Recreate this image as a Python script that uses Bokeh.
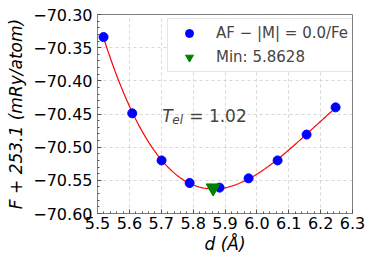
import numpy as np
from bokeh.plotting import figure
from bokeh.models import Label, Legend, LegendItem, Range1d, FixedTicker
from bokeh.embed import file_html
from bokeh.resources import INLINE

# ---- data ----
d_vals = [5.519, 5.609, 5.701, 5.789, 5.883, 5.974, 6.065, 6.156, 6.247]
F_vals = [-70.334, -70.449, -70.520, -70.554, -70.561, -70.547, -70.520, -70.481, -70.440]
d_min = [5.8628]
F_min = [-70.5615]
x_ticks = [5.5, 5.6, 5.7, 5.8, 5.9, 6.0, 6.1, 6.2, 6.3]
y_ticks = [-70.60, -70.55, -70.50, -70.45, -70.40, -70.35, -70.30]
legend_labels = ["AF − |M| = 0.0/Fe", "Min: 5.8628"]
tel_value = "= 1.02"
x_label = "d (Å)"
y_label = "F + 253.1 (mRy/atom)"

# fitted curve (cubic fit of the points, as in the original)
coef = np.polyfit(d_vals, F_vals, 3)
xs = np.linspace(min(d_vals), max(d_vals), 200)
ys = np.polyval(coef, xs)

p = figure(width=374, height=267, x_range=Range1d(5.5, 6.3), y_range=Range1d(-70.60, -70.30),
           output_backend="svg", toolbar_location=None,
           min_border_left=97, min_border_right=22, min_border_top=14, min_border_bottom=54)
p.background_fill_color = "white"
p.border_fill_color = "white"
p.outline_line_color = "#808080"
p.outline_line_width = 1

xminor = [round(5.5 + 0.02 * i, 3) for i in range(41)]
yminor = [round(-70.60 + 0.01 * i, 3) for i in range(31)]
p.xaxis.ticker = FixedTicker(ticks=x_ticks, minor_ticks=xminor)
p.yaxis.ticker = FixedTicker(ticks=y_ticks, minor_ticks=yminor)
p.xaxis.major_label_overrides = {t: f"{t:.1f}" for t in x_ticks}
p.yaxis.major_label_overrides = {t: f"{t:.2f}".replace("-", "−") for t in y_ticks}

for ax in (p.xaxis, p.yaxis):
    ax.major_label_text_font = "DejaVu Sans"
    ax.major_label_text_font_size = "16px"
    ax.major_label_text_color = "black"
    ax.axis_line_color = "#808080"
    ax.major_tick_in = 4
    ax.major_tick_out = 0
    ax.minor_tick_in = 2
    ax.minor_tick_out = 0
    ax.major_tick_line_color = "#555555"
    ax.minor_tick_line_color = "#555555"
    ax.axis_label_text_font = "DejaVu Sans"
    ax.axis_label_text_font_size = "17px"
    ax.axis_label_text_font_style = "italic"
    ax.axis_label_text_color = "black"
p.xaxis.major_label_standoff = 3
p.yaxis.major_label_standoff = 5
p.xaxis.axis_label = x_label
p.yaxis.axis_label = y_label
p.xaxis.axis_label_standoff = 2
p.yaxis.axis_label_standoff = 4

for g in (p.xgrid, p.ygrid):
    g.grid_line_color = "#cccccc"
    g.grid_line_dash = "3 3"
    g.grid_line_alpha = 0.8

p.line(xs, ys, line_color="red", line_width=1.2)
r_pts = p.scatter(d_vals, F_vals, size=9, color="blue")
r_min = p.scatter(d_min, F_min, marker="inverted_triangle", size=14, color="green")

legend = Legend(items=[LegendItem(label=legend_labels[0], renderers=[r_pts]),
                       LegendItem(label=legend_labels[1], renderers=[r_min])],
                location=(70, 141))
legend.label_text_font = "DejaVu Sans"
legend.label_text_font_size = "15px"
legend.padding = 4
legend.spacing = 4
legend.label_height = 20
legend.glyph_height = 20
legend.glyph_width = 34
legend.label_standoff = 10
legend.border_line_color = "#cccccc"
legend.background_fill_alpha = 0.9
p.add_layout(legend)

lab_font = "DejaVu Sans"
# T_el annotation
p.add_layout(Label(x=5.70, y=-70.4523, text="T", x_offset=1, text_font=lab_font,
                   text_font_size="17px", text_font_style="italic", text_baseline="alphabetic"))
p.add_layout(Label(x=5.70, y=-70.4523, text="el", x_offset=11, y_offset=-4, text_font=lab_font,
                   text_font_size="12px", text_font_style="italic", text_baseline="alphabetic"))
p.add_layout(Label(x=5.70, y=-70.4523, text=tel_value, x_offset=28, text_font=lab_font,
                   text_font_size="17px", text_baseline="alphabetic"))

open("out.html", "w").write(file_html(p, INLINE))
